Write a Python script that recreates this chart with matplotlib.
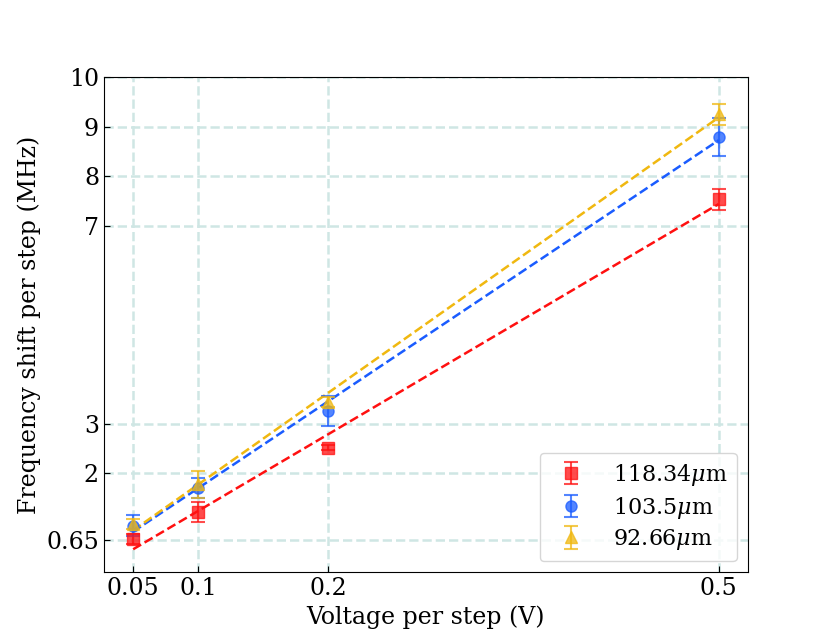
import numpy as np
import matplotlib
matplotlib.use("Agg")
import matplotlib.pyplot as plt

plt.rcParams['font.family'] = 'DejaVu Serif'
plt.rcParams['mathtext.fontset'] = 'dejavuserif'

voltage = [0.05, 0.1, 0.2, 0.5]
labels = [r'118.34$\mu$m', r'103.5$\mu$m', r'92.66$\mu$m']
shift_red = [0.67, 1.21, 2.52, 7.53]
err_red = [0.10, 0.20, 0.06, 0.21]
shift_blue = [0.94, 1.71, 3.26, 8.79]
err_blue = [0.21, 0.20, 0.30, 0.39]
shift_yellow = [0.97, 1.78, 3.43, 9.25]
err_yellow = [0.10, 0.27, 0.10, 0.21]
xticks = [0.05, 0.1, 0.2, 0.5]
yticks = [0.65, 2, 3, 7, 8, 9, 10]
ytick_labels = ['0.65', '2', '3', '7', '8', '9', '10']

colors = ['#ff1010', '#1a5cff', '#f0b810']
markers = ['s', 'o', '^']
series = [(shift_red, err_red), (shift_blue, err_blue), (shift_yellow, err_yellow)]

fig, ax = plt.subplots(figsize=(8.31, 6.43), dpi=100)
x = np.array(voltage)
for (y, e), c, m, lab in zip(series, colors, markers, labels):
    ax.errorbar(x, y, yerr=e, fmt=m, color=c, alpha=0.75, markersize=8,
                capsize=5, elinewidth=1.5, capthick=1.5, label=lab, zorder=3)
    k, b = np.polyfit(x, y, 1)
    ax.plot(x, k * x + b, '--', color=c, lw=1.8, zorder=2)

ax.set_xlim(0.0275, 0.5225)
ax.set_ylim(0, 10)
ax.set_xticks(xticks)
ax.set_xticklabels(['0.05', '0.1', '0.2', '0.5'])
ax.set_yticks(yticks)
ax.set_yticklabels(ytick_labels)
ax.tick_params(direction='in', length=4, labelsize=17)
ax.grid(True, linestyle='--', color='#cfe6e4', lw=1.8)
ax.set_axisbelow(True)
ax.set_xlabel('Voltage per step (V)', fontsize=17)
ax.set_ylabel('Frequency shift per step (MHz)', fontsize=17)
ax.legend(loc='lower right', fontsize=16, handletextpad=0.9, borderpad=0.4,
          labelspacing=0.3)
fig.savefig('out.png', dpi=100)
